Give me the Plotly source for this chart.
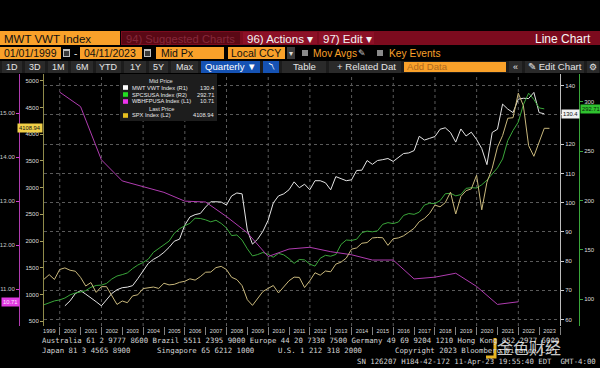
import plotly.graph_objects as go

W, H = 600, 368

# ---------------- data ----------------
quarter_ends = [f"{y}-{md}" for y in range(1999, 2024) for md in ("03-31", "06-30", "09-30", "12-31")]

spx_dates = quarter_ends[:97] + ["2023-06-30"]
spx_values = [
    1286.4, 1372.7, 1282.7, 1469.3,
    1498.6, 1454.6, 1436.5, 1320.3,
    1160.3, 1224.4, 1040.9, 1148.1,
    1147.4, 989.8, 815.3, 879.8,
    848.2, 974.5, 996.0, 1111.9,
    1126.2, 1140.8, 1114.6, 1211.9,
    1180.6, 1191.3, 1228.8, 1248.3,
    1294.8, 1270.2, 1335.9, 1418.3,
    1420.9, 1503.4, 1526.8, 1468.4,
    1322.7, 1280.0, 1166.4, 903.3,
    797.9, 919.3, 1057.1, 1115.1,
    1169.4, 1030.7, 1141.2, 1257.6,
    1325.8, 1320.6, 1131.4, 1257.6,
    1408.5, 1362.2, 1440.7, 1426.2,
    1569.2, 1606.3, 1681.6, 1848.4,
    1872.3, 1960.2, 1972.3, 2058.9,
    2067.9, 2063.1, 1920.0, 2043.9,
    2059.7, 2098.9, 2168.3, 2238.8,
    2362.7, 2423.4, 2519.4, 2673.6,
    2640.9, 2718.4, 2914.0, 2506.9,
    2834.4, 2941.8, 2976.7, 3230.8,
    2584.6, 3100.3, 3363.0, 3756.1,
    3972.9, 4297.5, 4307.5, 4766.2,
    4530.4, 3785.4, 3585.6, 3839.5,
    4109.3, 4108.94,
]

hpi_dates = quarter_ends[:97]
hpi_values = [
    94.5, 96.4, 98.4, 99.4,
    101.3, 104.5, 106.4, 107.4,
    108.8, 112.2, 114.0, 114.4,
    116.1, 120.5, 123.6, 125.0,
    126.7, 131.1, 134.7, 137.3,
    140.6, 147.6, 151.3, 154.4,
    158.9, 166.8, 171.4, 174.4,
    176.9, 182.1, 181.8, 180.4,
    178.4, 180.0, 176.8, 172.2,
    164.5, 165.1, 159.9, 151.1,
    143.9, 145.3, 147.4, 145.5,
    142.6, 146.5, 145.0, 141.1,
    136.4, 140.3, 139.9, 135.6,
    133.6, 141.5, 144.5, 143.6,
    145.4, 155.5, 160.0, 159.6,
    160.8, 167.4, 169.0, 168.3,
    169.3, 175.9, 177.6, 176.6,
    178.2, 184.9, 186.8, 186.0,
    188.2, 195.4, 197.2, 196.9,
    199.8, 206.8, 207.3, 204.7,
    206.0, 212.3, 213.0, 212.6,
    215.9, 220.6, 226.8, 233.0,
    242.0, 260.6, 270.8, 279.3,
    297.0, 308.6, 302.3, 293.7,
    292.71,
]

mwt_dates = quarter_ends[4:97]
mwt_values = [
    64.7, 66.4, 68.9, 69.9,
    68.7, 67.5, 66.1, 64.7,
    66.8, 68.9, 70.2, 70.9,
    71.1, 71.6, 74.0, 76.4,
    79.2, 80.6, 81.6, 83.0,
    84.7, 86.8, 87.5, 92.3,
    95.1, 95.9, 96.3, 98.5,
    100.3, 100.3, 100.2, 99.2,
    102.3, 103.3, 103.0, 90.6,
    85.8, 87.5, 90.2, 94.0,
    99.9, 102.3, 103.0, 104.4,
    107.1, 105.1, 106.3, 104.4,
    107.5, 107.5, 106.8, 104.4,
    108.9, 108.2, 107.5, 107.8,
    111.0, 111.1, 114.4, 113.1,
    114.4, 114.7, 115.1, 114.1,
    115.3, 116.8, 117.0, 117.8,
    122.7, 121.4, 122.0, 122.6,
    125.1, 125.6, 124.0, 120.7,
    125.2, 122.8, 124.1, 121.6,
    118.5, 113.0, 124.0, 125.1,
    133.7, 132.0, 130.8, 135.4,
    135.7, 135.6, 137.7, 130.8,
    130.4,
]

wb_dates = [f"{y}-12-31" for y in range(1999, 2022)]
wb_values = [15.48, 15.15, 13.94, 13.46, 13.33, 13.20, 13.00, 12.98, 12.65, 12.28,
             11.74, 11.91, 11.95, 11.85, 11.78, 11.66, 11.66, 11.23, 11.27, 11.36,
             11.06, 10.65, 10.71]

r1_ticks = [60, 70, 80, 90, 100, 110, 120, 130, 140]
r2_ticks = [100, 150, 200, 250, 300]
l1_ticks = [11, 12, 13, 14, 15]
l2_ticks = [500, 1000, 1500, 2000, 2500, 3000, 3500, 4000, 4500, 5000]
grid_years = list(range(2000, 2024, 2))

series_names = ["MWT VWT Index (R1)", "SPCSUSA Index (R2)", "WBHFPUSA Index (L1)", "SPX Index (L2)"]

footer1 = "Australia 61 2 9777 8600 Brazil 5511 2395 9000 Europe 44 20 7330 7500 Germany 49 69 9204 1210 Hong Kong 852 2977 6000"
footer2 = ["Japan 81 3 4565 8900", "Singapore 65 6212 1000", "U.S. 1 212 318 2000", "Copyright 2023 Bloomberg Finance L.P."]
footer3 = "SN 126207 H184-42-172 11-Apr-23 19:55:40 EDT  GMT-4:00"

# ---------------- style ----------------
SANS = "Liberation Sans, Arial, sans-serif"
MONO = "DejaVu Sans Mono, Liberation Mono, monospace"
ORANGE = "#f9a12a"
C_WHITE = "#e4e4e4"
C_GREEN = "#3aa63a"
C_MAG = "#b03cb0"
C_SPX = "#c9b87c"

PLOT_L, PLOT_R, PLOT_T, PLOT_B = 44, 560, 74, 326
yb, yt = 1 - PLOT_B / H, 1 - PLOT_T / H

fig = go.Figure()
fig.add_trace(go.Scatter(x=mwt_dates, y=mwt_values, yaxis="y", mode="lines",
                         line=dict(color=C_WHITE, width=1), name=series_names[0]))
fig.add_trace(go.Scatter(x=hpi_dates, y=hpi_values, yaxis="y2", mode="lines",
                         line=dict(color=C_GREEN, width=1), name=series_names[1]))
fig.add_trace(go.Scatter(x=wb_dates, y=wb_values, yaxis="y3", mode="lines",
                         line=dict(color=C_MAG, width=1), name=series_names[2]))
fig.add_trace(go.Scatter(x=spx_dates, y=spx_values, yaxis="y4", mode="lines",
                         line=dict(color=C_SPX, width=1), name=series_names[3]))

tickfont = dict(family=SANS, size=6, color="#dedede")

fig.update_layout(
    width=W, height=H, margin=dict(l=0, r=0, t=0, b=0),
    paper_bgcolor="black", plot_bgcolor="rgba(0,0,0,0)", showlegend=False,
    xaxis=dict(domain=[PLOT_L / W, PLOT_R / W], type="date",
               range=["1999-03-31", "2024-01-01"], dtick="M12", tick0="1999-01-01",
               ticklabelmode="period", tickformat="%Y", ticks="outside", ticklen=8,
               tickcolor="#808080", tickwidth=1, ticklabelstandoff=-9,
               tickfont=dict(family=SANS, size=5.6, color="#dcdcdc"),
               showgrid=False, zeroline=False, showline=False, fixedrange=True),
    yaxis=dict(domain=[yb, yt], range=[57.8, 144.0], side="right", anchor="x",
               tickvals=r1_ticks, ticks="outside", ticklen=3, tickcolor="#cccccc",
               showline=True, linecolor="#bdbdbd", linewidth=1,
               showgrid=True, gridcolor="#5a5a5a", griddash="dot", gridwidth=1,
               zeroline=False, tickfont=tickfont),
    yaxis2=dict(overlaying="y", side="right", anchor="free", position=579 / W,
                range=[73, 328], tickvals=r2_ticks, ticks="outside", ticklen=3,
                tickcolor=C_GREEN, showline=True, linecolor=C_GREEN, linewidth=1,
                showgrid=False, zeroline=False, tickfont=tickfont),
    yaxis3=dict(overlaying="y", side="left", anchor="free", position=19 / W,
                range=[10.159, 15.893], tickvals=l1_ticks, tickformat=".2f",
                ticks="outside", ticklen=3, tickcolor="#d040d0",
                showline=True, linecolor=C_MAG, linewidth=1,
                showgrid=False, zeroline=False, tickfont=dict(family=SANS, size=6, color="#c8c8c8")),
    yaxis4=dict(overlaying="y", side="left", anchor="x",
                range=[412, 5125], tickvals=l2_ticks, ticks="outside", ticklen=3,
                tickcolor="#a8a060", showline=True, linecolor="#8f8a4a", linewidth=1,
                showgrid=False, zeroline=False, tickfont=tickfont),
)

# vertical dotted grid (every two years)
for yr in grid_years:
    fig.add_shape(type="line", xref="x", yref="paper", x0=f"{yr}-01-01", x1=f"{yr}-01-01",
                  y0=yb, y1=yt, line=dict(color="#5a5a5a", width=1, dash="dot"), layer="below")


def rect(x0, y0, x1, y1, fill, layer="above"):
    fig.add_shape(type="rect", xref="paper", yref="paper",
                  x0=x0 / W, x1=x1 / W, y0=1 - y1 / H, y1=1 - y0 / H,
                  fillcolor=fill, layer=layer, line=dict(width=0))


def text(x, y, s, size, color, anchor="left", family=SANS):
    fig.add_annotation(x=x / W, y=1 - y / H, xref="paper", yref="paper", text=s,
                       showarrow=False, xanchor=anchor, yanchor="middle",
                       font=dict(size=size, color=color, family=family), borderpad=0)


# ---------------- header row 1 ----------------
R1S = 11.5
rect(0, 31, 120, 45, ORANGE)
text(3, 38.5, "MWT VWT Index", R1S, "#101010")
rect(121, 31, 600, 45, "#7c0b1e")
rect(122, 32, 240, 44, "#5a0815")
text(125, 38.5, "94) Suggested Charts", 11.2, "#86283a")
rect(243, 32, 317, 44, "#8c1027")
text(246, 38.5, "96) Actions ▾", R1S, "#f2f2f2")
rect(319, 32, 374, 44, "#8c1027")
text(322, 38.5, "97) Edit ▾", R1S, "#f2f2f2")
text(592, 38.5, "Line Chart", 12, "#f5f5f5", anchor="right")

# ---------------- header row 2 ----------------
R2S = 10.5
rect(0, 47, 61, 59, ORANGE)
text(3, 53, "01/01/1999", R2S, "#101010")
rect(63, 49, 70, 57, "#bdbdbd")
rect(64, 51, 69, 56, "#3a3a3a")
text(75, 53, "-", 10, "#e0e0e0", anchor="center")
rect(80, 47, 142, 59, ORANGE)
text(83, 53, "04/11/2023", R2S, "#101010")
rect(144, 49, 151, 57, "#bdbdbd")
rect(145, 51, 150, 56, "#3a3a3a")
rect(156, 47, 224, 59, ORANGE)
text(160, 53, "Mid Px", R2S, "#101010")
rect(228, 47, 285, 59, ORANGE)
text(230, 53, "Local CCY", R2S, "#101010")
rect(287, 47, 295, 59, "#3c3c3c")
text(291, 53, "▾", 8, "#dddddd", anchor="center")
rect(302, 50, 308, 56, "#8a8a8a")
text(312, 53, "Mov Avgs", 10.2, ORANGE)
text(362, 53, "✎", 9, "#cfcfcf", anchor="center")
rect(377, 50, 383, 56, "#8a8a8a")
text(388, 53, "Key Events", 10.2, ORANGE)

# ---------------- header row 3 ----------------
R3S = 9.6
rect(0, 61, 600, 73, "#1c1c1c")
buttons = [(2, 22, "1D"), (25, 45, "3D"), (48, 68, "1M"), (71, 93, "6M"), (96, 121, "YTD"),
           (124, 146, "1Y"), (149, 168, "5Y"), (171, 198, "Max")]
for bx0, bx1, lab in buttons:
    rect(bx0, 61, bx1, 73, "#2a2a2a")
    text((bx0 + bx1) / 2, 67, lab, 9, "#e6e6e6", anchor="center")
rect(201, 61, 260, 73, "#1552b3")
text(230.5, 67, "Quarterly ▼", R3S, "#ffffff", anchor="center")
rect(263, 61, 279, 73, "#1552b3")
text(271, 67, "〽", 7, "#ffffff", anchor="center")
rect(282, 61, 326, 73, "#2a2a2a")
text(304, 67, "Table", R3S, "#e6e6e6", anchor="center")
rect(329, 61, 401, 73, "#2a2a2a")
text(366, 67, "+ Related Dat", R3S, "#e6e6e6", anchor="center")
rect(404, 62, 506, 72, ORANGE)
text(406, 67, "Add Data", R3S, "#b0681c")
rect(509, 61, 522, 73, "#2a2a2a")
text(515.5, 67, "«", 9, "#e6e6e6", anchor="center")
rect(525, 61, 584, 73, "#2a2a2a")
text(554.5, 67, "✎ Edit Chart", R3S, "#e6e6e6", anchor="center")
rect(587, 61, 599, 73, "#2a2a2a")
text(593, 67, "⚙", 9, "#e6e6e6", anchor="center")

# ---------------- legend box ----------------
LS = 5.7
rect(120, 74, 217, 121, "#1d1d1d")
text(161, 80.5, "Mid Price", LS, "#e0e0e0", anchor="center")
legend_rows = [
    (series_names[0], f"{mwt_values[-1]:g}", "#ffffff", 87.5),
    (series_names[1], f"{hpi_values[-1]:g}", "#22dd22", 94.5),
    (series_names[2], f"{wb_values[-1]:g}", "#ee33ee", 101.5),
    (series_names[3], f"{spx_values[-1]:g}", "#e8c020", 115.5),
]
text(161, 108.5, "Last Price", LS, "#e0e0e0", anchor="center")
for name, val, col, yy in legend_rows:
    rect(123, yy - 2.3, 128, yy + 2.3, col)
    text(130.5, yy, name, LS, "#e8e8e8")
    text(215, yy, val, LS, "#e8e8e8", anchor="right")

# ---------------- last value tags on axes ----------------
def tag(x, anchor, yref, value, bg, fg):
    fig.add_annotation(x=x / W, xref="paper", y=value, yref=yref, text=f"{value:g}",
                       showarrow=False, xanchor=anchor, yanchor="middle", bgcolor=bg,
                       borderpad=1, font=dict(family=SANS, size=5.8, color=fg))

tag(43, "right", "y4", spx_values[-1], "#f0cf48", "#111111")
tag(0.5, "left", "y3", wb_values[-1], "#e23ae2", "#fde6fd")
tag(561, "left", "y", mwt_values[-1], "#f2f2f2", "#111111")
tag(580, "left", "y2", hpi_values[-1], "#2fc12f", "#0a200a")

# ---------------- footer ----------------
FOOT_C = "#d6d6d6"
text(41, 340, footer1, 7.35, FOOT_C, family=MONO)
for xx, s in zip([41, 156, 277, 394], footer2):
    text(xx, 350.5, s, 7.35, FOOT_C, family=MONO)
text(356, 361, footer3, 7.35, FOOT_C, family=MONO)

# watermark
fig.add_shape(type="path", xref="paper", yref="paper",
              path=f"M {486/W} {1-357/H} L {495/W} {1-357/H} L {495/W} {1-338/H}",
              line=dict(color="#e7b422", width=3))
text(529, 347, "金色财经", 16, "rgba(255,255,255,0.78)", anchor="center",
     family="Noto Sans CJK SC, sans-serif")

fig.write_html("out.html", config={"displayModeBar": False},
               post_script="document.body.style.margin='0';document.body.style.background='black';")
